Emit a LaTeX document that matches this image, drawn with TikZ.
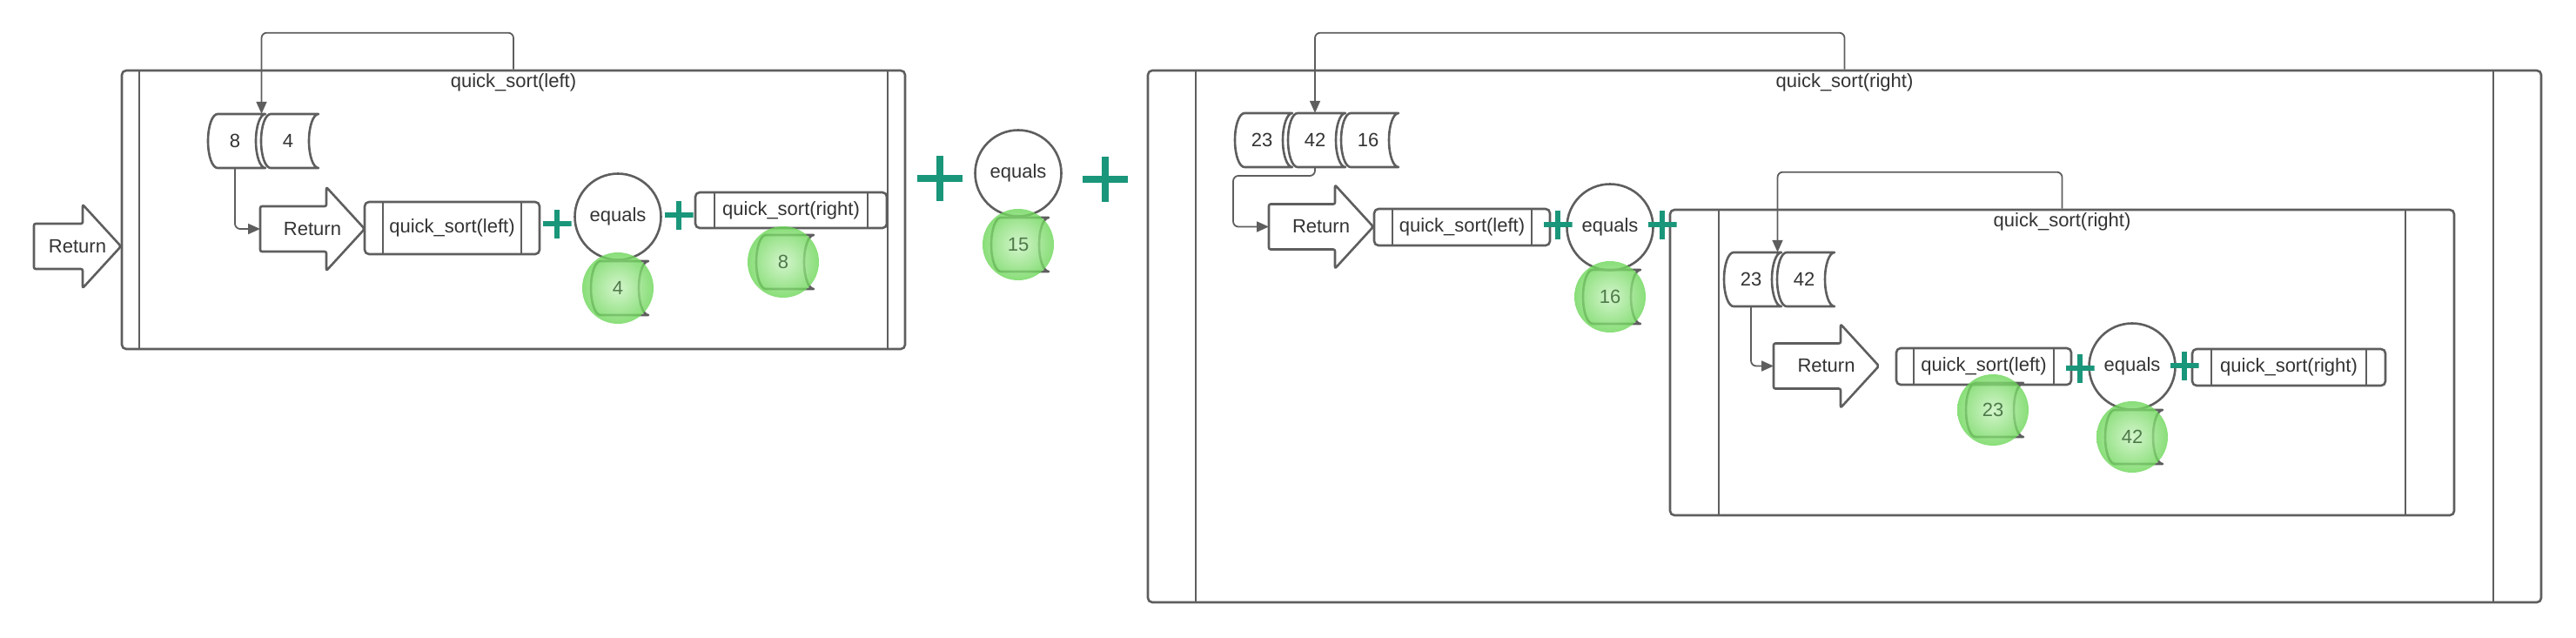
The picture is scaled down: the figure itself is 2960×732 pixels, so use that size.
\documentclass[tikz,border=0pt]{standalone}
\usepackage{fontspec}
\setmainfont{Liberation Sans}
\usetikzlibrary{arrows.meta,positioning,fit}

\definecolor{linegray}{RGB}{94,94,94}
\definecolor{txtgray}{RGB}{51,51,51}
\definecolor{plusteal}{RGB}{26,150,122}
\definecolor{hitgreen}{RGB}{108,214,88}
\definecolor{hitlight}{RGB}{200,242,190}
\definecolor{hittext}{RGB}{78,122,74}

% return arrow: name, centre, total width
\newcommand\retarrow[3]{%
  \node[rettext,minimum width=#3pt] (#1) at #2 {Return};
  \draw[outline,rounded corners=2pt] (#1.west) ++(0,26) -- ++(#3-44,0) -- ++(0,22) -- (#1.east)
    -- ++(-44,-48) -- ++(0,22) -- ++(-#3+44,0) -- cycle;}
% outline of one array cell
\newcommand\datacell[1]{%
  \draw[outline] ([xshift=11pt]#1.north west) -- ([xshift=4pt]#1.north east)
    arc[start angle=90,end angle=270,x radius=11pt,y radius=31pt]
    -- ([xshift=11pt]#1.south west)
    arc[start angle=270,end angle=90,x radius=11pt,y radius=31pt] -- cycle;}

\begin{document}
\begin{tikzpicture}[x=1pt,y=1pt,font=\fontsize{22}{26}\selectfont,text=txtgray,
    procbox/.style={outline,rounded corners=5pt,inner sep=0pt,
      path picture={\draw[linegray,line width=2.4pt]
        ([xshift=#1]path picture bounding box.north west) -- ([xshift=#1]path picture bounding box.south west)
        ([xshift=-#1]path picture bounding box.north east) -- ([xshift=-#1]path picture bounding box.south east);}}]
    \tikzstyle{outline}=[draw=linegray,line width=2.6pt,line join=round]
    \tikzstyle{rettext}=[minimum height=96pt,inner sep=0pt,outer sep=0pt]
    \tikzstyle{cell}=[minimum width=62pt,minimum height=62pt,inner sep=0pt,outer sep=0pt]
    \tikzstyle{eqnode}=[circle,outline,fill=white,minimum size=99pt,inner sep=0pt]
    \tikzstyle{hit}=[circle,minimum size=82pt,inner sep=0pt,shading=radial,inner color=hitlight,outer color=hitgreen,fill opacity=0.8,text=hittext,text opacity=1]
    \tikzstyle{plussign}=[minimum size=33pt,inner sep=0pt,path picture={\draw[plusteal,line width=5.5pt] (path picture bounding box.north) -- (path picture bounding box.south) (path picture bounding box.west) -- (path picture bounding box.east);}]
    \tikzstyle{bigplus}=[minimum size=52pt,inner sep=0pt,path picture={\draw[plusteal,line width=8pt] (path picture bounding box.north) -- (path picture bounding box.south) (path picture bounding box.west) -- (path picture bounding box.east);}]
    \tikzstyle{link}=[draw=linegray,line width=1.8pt,rounded corners=6pt,-{Triangle[length=14pt,width=12pt]}]
    \tikzstyle{boxtitle}=[anchor=north,inner sep=5pt]
    \useasboundingbox (0,0) rectangle (2960,-732);

    % quick_sort(left) call
    \retarrow{ret1}{(89,-283)}{100}
    \node[procbox=20pt,minimum width=900pt,minimum height=320pt,
      label={[boxtitle]north:quick\_sort(left)}] (lbox) at (590,-241) {};
    \node[cell] (c8) at (270,-162) {8};
    \node[cell,right=-1pt of c8] (c4) {4};
    \node[fit=(c8)(c4),inner sep=0pt] (arrL) {};
    \datacell{c8} \datacell{c4}
    \retarrow{ret2}{(359,-263)}{120}
    \node[procbox=21pt,minimum width=201pt,minimum height=60pt] (qsl1) at (519.5,-262) {quick\_sort(left)};
    \node[plussign] (p1) at (640,-257) {};
    \node[eqnode] (eq1) at (710,-249) {equals};
    \node[plussign] (p2) at (780,-247) {};
    \node[procbox=22pt,minimum width=220pt,minimum height=41pt] (qsr1) at (909,-241.5) {quick\_sort(right)};
    \node[cell] (v4) at (710,-331) {}; \datacell{v4}
    \node[hit] (g4) at (v4) {4};
    \node[cell] (v8) at (900,-301) {}; \datacell{v8}
    \node[hit] (g8) at (v8) {8};
    \draw[link] (lbox.north) -- ++(0,42) -| (arrL.north);
    \draw[link] (c8.south) |- (ret2.west);

    % pivot
    \node[bigplus] (p3) at (1080,-205) {};
    \node[eqnode] (eq2) at (1170,-199) {equals};
    \node[bigplus] (p4) at (1270,-206) {};
    \node[cell] (v15) at (1170,-281) {}; \datacell{v15}
    \node[hit] (g15) at (v15) {15};

    % quick_sort(right) call
    \node[procbox=55pt,minimum width=1601pt,minimum height=611pt,
      label={[boxtitle]north:quick\_sort(right)}] (rbox) at (2119.5,-386.5) {};
    \node[cell] (c23) at (1450,-161) {23};
    \node[cell,right=-1pt of c23] (c42) {42};
    \node[cell,right=-1pt of c42] (c16) {16};
    \node[fit=(c23)(c16),inner sep=0pt] (arrR) {};
    \datacell{c23} \datacell{c42} \datacell{c16}
    \retarrow{ret3}{(1518,-260.5)}{120}
    \node[procbox=21pt,minimum width=202pt,minimum height=42pt] (qsl2) at (1680,-261) {quick\_sort(left)};
    \node[eqnode] (eq3) at (1850,-261) {equals};
    \node[cell] (v16) at (1850,-341) {}; \datacell{v16}
    \node[hit] (g16) at (v16) {16};
    \draw[link] (rbox.north) -- ++(0,42) -| (arrR.north);
    \draw[link] (c42.south) -- ++(0,-10) -- ++(-94,0) |- (ret3.west);

    % nested quick_sort(right) call
    \node[procbox=56pt,minimum width=901pt,minimum height=351pt,
      label={[boxtitle]north:quick\_sort(right)}] (ibox) at (2369.5,-416.5) {};
    \node[plussign] (p5) at (1790,-258) {};
    \node[plussign] (p6) at (1910,-258) {};
    \node[cell] (d23) at (2012,-321) {23};
    \node[cell,right=-1pt of d23] (d42) {42};
    \node[fit=(d23)(d42),inner sep=0pt] (arrI) {};
    \datacell{d23} \datacell{d42}
    \retarrow{ret4}{(2098.5,-420.5)}{121}
    \node[procbox=20pt,minimum width=201pt,minimum height=42pt] (qsl3) at (2279.5,-421) {quick\_sort(left)};
    \node[eqnode] (eq4) at (2450,-421) {equals};
    \node[procbox=22pt,minimum width=222pt,minimum height=42pt] (qsr3) at (2630,-422) {quick\_sort(right)};
    \node[plussign] (p7) at (2390,-423) {};
    \node[plussign] (p8) at (2510,-420) {};
    \node[cell] (v23) at (2290,-471) {}; \datacell{v23}
    \node[hit] (g23) at (v23) {23};
    \node[cell] (v42) at (2450,-502) {}; \datacell{v42}
    \node[hit] (g42) at (v42) {42};
    \draw[link] (ibox.north) -- ++(0,42) -| (arrI.north);
    \draw[link] (d23.south) |- (ret4.west);
\end{tikzpicture}
\end{document}
